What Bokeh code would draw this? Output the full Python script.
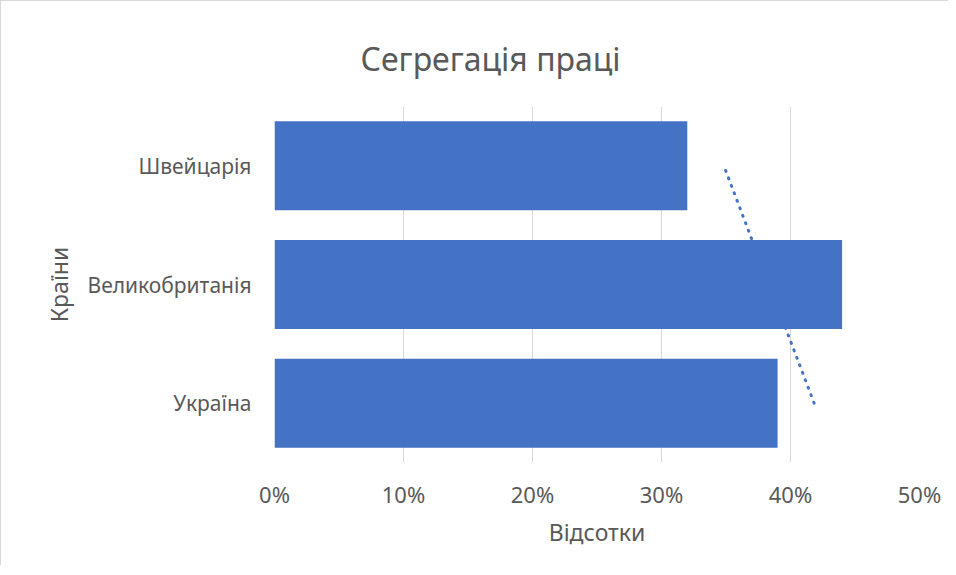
import numpy as np
from bokeh.plotting import figure
from bokeh.models import Range1d, FactorRange, NumeralTickFormatter, FixedTicker
from bokeh.embed import file_html
from bokeh.resources import INLINE

# Data (bottom to top, as in the reference)
countries = ["Україна", "Великобританія", "Швейцарія"]
shares = [0.39, 0.44, 0.32]
x_ticks = [0.0, 0.1, 0.2, 0.3, 0.4, 0.5]

title_text = "Сегрегація праці"
x_title = "Відсотки"
y_title = "Країни"

FONT = "Noto Sans"
TEXT = "#595959"
BAR = "#4472C4"
GRID = "#d9d9d9"

p = figure(
    width=948, height=565,
    y_range=FactorRange(factors=countries, range_padding=0),
    x_range=Range1d(0, 0.5),
    output_backend="svg", toolbar_location=None,
    min_border_left=273, min_border_right=30,
    min_border_top=105, min_border_bottom=104,
)
p.styles = {"border-left": "1px solid #d9d9d9", "border-top": "1px solid #d9d9d9"}

# Linear trendline computed from the series (least squares over category index)
idx = np.arange(1, len(shares) + 1)
slope, intercept = np.polyfit(idx, shares, 1)
trend_x = [intercept + slope * idx[0], intercept + slope * idx[-1]]
trend_y = [countries[0], countries[-1]]
p.line(trend_x, trend_y, line_color=BAR, line_width=3, line_dash="1 7",
       line_cap="round")

p.hbar(y=countries, right=shares, left=0, height=0.75, fill_color=BAR,
       line_color=None)

# Title
p.title.text = title_text
p.title.text_font = FONT
p.title.text_font_size = "32px"
p.title.text_font_style = "normal"
p.title.text_color = TEXT
p.title.align = "left"
p.title.offset = 86
p.title.standoff = 54

# X axis
p.xaxis.ticker = FixedTicker(ticks=x_ticks)
p.xaxis.formatter = NumeralTickFormatter(format="0%")
p.xaxis.axis_line_color = None
p.xaxis.major_tick_line_color = None
p.xaxis.minor_tick_line_color = None
p.xaxis.major_label_text_font = FONT
p.xaxis.major_label_text_font_size = "22px"
p.xaxis.major_label_text_color = TEXT
p.xaxis.major_label_standoff = 10
p.xaxis.axis_label = x_title
p.xaxis.axis_label_text_font = FONT
p.xaxis.axis_label_text_font_size = "23px"
p.xaxis.axis_label_text_font_style = "normal"
p.xaxis.axis_label_text_color = TEXT
p.xaxis.axis_label_standoff = 4

# Y axis
p.yaxis.axis_line_color = None
p.yaxis.major_tick_line_color = None
p.yaxis.minor_tick_line_color = None
p.yaxis.major_label_text_font = FONT
p.yaxis.major_label_text_font_size = "21px"
p.yaxis.major_label_text_color = TEXT
p.yaxis.major_label_standoff = 17
p.yaxis.axis_label = y_title
p.yaxis.axis_label_text_font = FONT
p.yaxis.axis_label_text_font_size = "23px"
p.yaxis.axis_label_text_font_style = "normal"
p.yaxis.axis_label_text_color = TEXT
p.yaxis.axis_label_standoff = 9

# Grid
p.xgrid.grid_line_color = GRID
p.xgrid.grid_line_width = 1
p.ygrid.grid_line_color = None
p.outline_line_color = None
p.background_fill_color = "white"
p.border_fill_color = "white"

open("out.html", "w").write(file_html(p, INLINE))
